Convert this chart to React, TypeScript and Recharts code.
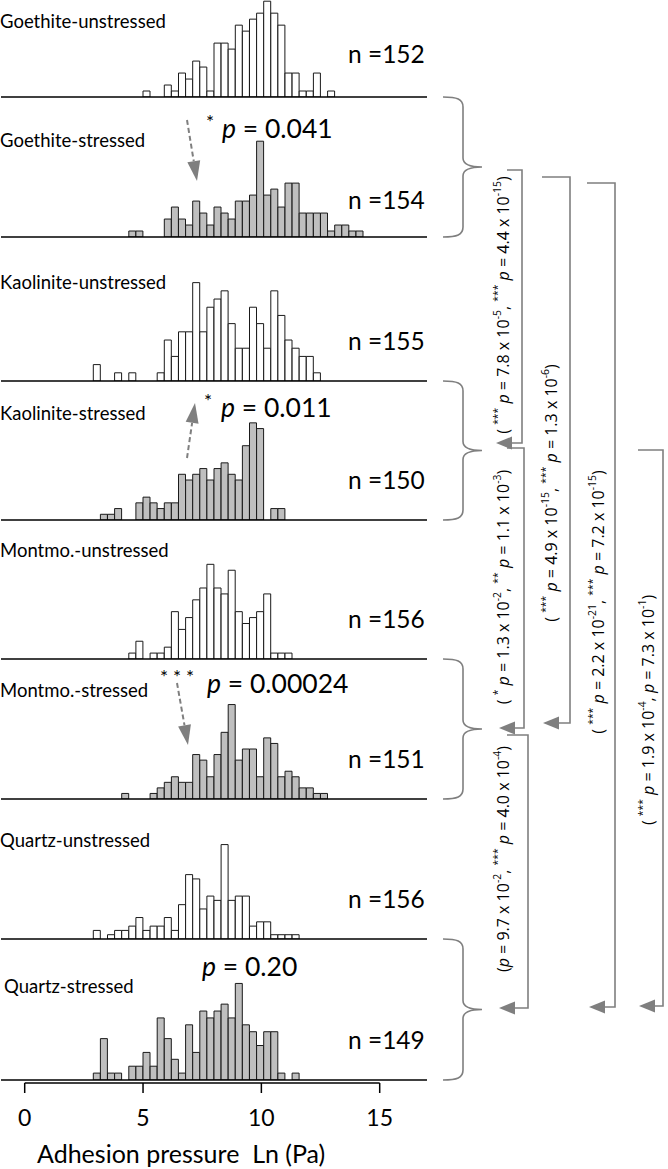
import React from "react";
import { BarChart, Bar, XAxis, YAxis, LineChart, Line } from "recharts";

// histogram grid: 0.3 Ln(Pa) wide bins, left edges from -1.0 up to 17.0
const BIN_W = 0.3;
const FIRST_EDGE = -1.0;
const N_BINS = 60;
const binLabels = Array.from({ length: N_BINS }, (_, i) =>
  (FIRST_EDGE + BIN_W * i + BIN_W / 2).toFixed(2)
);

// counts per bin, first value belongs to the bin starting at *Start
const goethiteUnstressedStart = 5.0;
const goethiteUnstressed = [1, 0, 0, 2, 1, 4, 3, 6, 5, 1, 9, 9, 8, 12, 11, 13, 14, 16, 14, 12, 4, 4, 1, 1, 4, 0, 1];
const goethiteStressedStart = 4.4;
const goethiteStressed = [1, 1, 0, 0, 0, 3, 5, 3, 2, 6, 4, 2, 5, 4, 3, 6, 6, 7, 16, 7, 8, 5, 9, 9, 4, 4, 4, 4, 1, 2, 2, 1, 1];
const kaoliniteUnstressedStart = 2.9;
const kaoliniteUnstressed = [2, 0, 0, 1, 0, 1, 0, 0, 0, 1, 5, 3, 6, 6, 12, 6, 9, 10, 11, 7, 4, 4, 9, 7, 4, 11, 8, 5, 4, 3, 3, 1];
const kaoliniteStressedStart = 3.2;
const kaoliniteStressed = [1, 1, 2, 0, 0, 3, 4, 3, 2, 3, 3, 8, 7, 8, 9, 7, 9, 10, 8, 7, 13, 17, 16, 0, 2, 2];
const montmoUnstressedStart = 4.4;
const montmoUnstressed = [1, 3, 0, 1, 1, 2, 8, 5, 7, 10, 12, 16, 12, 11, 15, 8, 6, 7, 8, 11, 1, 1, 1];
const montmoStressedStart = 4.1;
const montmoStressed = [1, 0, 0, 0, 1, 2, 3, 4, 3, 3, 8, 7, 4, 8, 12, 17, 7, 9, 9, 4, 11, 10, 4, 5, 4, 2, 2, 1, 1];
const quartzUnstressedStart = 2.9;
const quartzUnstressed = [2, 0, 1, 2, 2, 3, 5, 2, 3, 3, 5, 2, 8, 15, 14, 7, 10, 9, 22, 9, 10, 10, 3, 4, 4, 1, 1, 1, 1];
const quartzStressedStart = 2.9;
const quartzStressed = [1, 6, 1, 1, 0, 2, 2, 4, 2, 9, 6, 3, 1, 8, 4, 10, 9, 10, 11, 9, 14, 8, 7, 5, 7, 7, 1, 0, 1];

const panelNames = [
  "Goethite-unstressed",
  "Goethite-stressed",
  "Kaolinite-unstressed",
  "Kaolinite-stressed",
  "Montmo.-unstressed",
  "Montmo.-stressed",
  "Quartz-unstressed",
  "Quartz-stressed",
];
const panelN = [152, 154, 155, 150, 156, 151, 156, 149];
const axisTicks = [0, 5, 10, 15];

// p-value strings: ^{..} = superscript, _{..} = italic
const pairP = ["0.041", "0.011", "0.00024", "0.20"];
const pairStars = ["*", "*", "* * *", ""];
const bracketTexts = [
  "( ^{***} _{p} = 7.8 x 10^{-5}, ^{***} _{p} = 4.4 x 10^{-15})",
  "( ^{*} _{p} = 1.3 x 10^{-2}, ^{**} _{p} = 1.1 x 10^{-3})",
  "(_{p} = 9.7 x 10^{-2}, ^{***} _{p} = 4.0 x 10^{-4})",
  "( ^{***} _{p} = 4.9 x 10^{-15}, ^{***} _{p} = 1.3 x 10^{-6})",
  "( ^{***} _{p} = 2.2 x 10^{-21}, ^{***} _{p} = 7.2 x 10^{-15})",
  "( ^{***} _{p} = 1.9 x 10^{-4}, _{p} = 7.3 x 10^{-1})",
];

const panels = [
  { start: goethiteUnstressedStart, counts: goethiteUnstressed, yMax: 16.7 },
  { start: goethiteStressedStart, counts: goethiteStressed, yMax: 16.7 },
  { start: kaoliniteUnstressedStart, counts: kaoliniteUnstressed, yMax: 12.2 },
  { start: kaoliniteStressedStart, counts: kaoliniteStressed, yMax: 17.5 },
  { start: montmoUnstressedStart, counts: montmoUnstressed, yMax: 16.9 },
  { start: montmoStressedStart, counts: montmoStressed, yMax: 18 },
  { start: quartzUnstressedStart, counts: quartzUnstressed, yMax: 23.3 },
  { start: quartzStressedStart, counts: quartzStressed, yMax: 14.5 },
];

// layout
const BASELINES = [97, 237, 381, 520, 659, 799, 939, 1080];
const LABEL_Y = [28, 147, 289, 420, 557, 697, 847, 993];
const LABEL_X = [0, 0, 0, 0, 0, 0, 0, 4];
const N_Y = [63, 209, 350, 489, 628, 768, 908, 1049];
const P_Y = [138, 417, 693, 976];
const STAR_X = [206, 204, 160, 0];
const P_X = [222, 221, 207, 202];
const FONT = "Lato, 'Open Sans', sans-serif";
const GREY = "#7f7f7f";

function buildRows(start: number, counts: number[]) {
  const offset = Math.round((start - FIRST_EDGE) / BIN_W);
  return binLabels.map((b, i) => {
    const c = counts[i - offset];
    return { bin: b, count: c ? c : null };
  });
}

function Histogram({ idx }: { idx: number }) {
  const p = panels[idx];
  const data = buildRows(p.start, p.counts);
  const stressed = idx % 2 === 1;
  return (
    <div style={{ position: "absolute", left: 0, top: BASELINES[idx] - 102 }}>
      <BarChart
        width={428}
        height={104}
        data={data}
        margin={{ top: 2, right: 1, left: 1, bottom: 0 }}
        barCategoryGap={0}
        barGap={0}
      >
        <XAxis
          dataKey="bin"
          height={2}
          tick={false}
          tickLine={false}
          interval={0}
          axisLine={{ stroke: "#000", strokeWidth: 1.5 }}
        />
        <YAxis hide domain={[0, p.yMax]} allowDataOverflow />
        <Bar
          dataKey="count"
          fill={stressed ? "#bfbfbf" : "#ffffff"}
          stroke="#1a1a1a"
          strokeWidth={1}
          isAnimationActive={false}
        />
      </BarChart>
    </div>
  );
}

function Rich({ text, size }: { text: string; size: number }) {
  const tokens = text.split(/(\^\{[^}]*\}|_\{[^}]*\})/).filter((t) => t.length);
  let raised = false;
  const shift = size * 0.38;
  return (
    <>
      {tokens.map((t, i) => {
        const sup = t.startsWith("^{");
        const it = t.startsWith("_{");
        const body = sup || it ? t.slice(2, -1) : t;
        let dy: number | undefined;
        if (sup && !raised) {
          dy = -shift;
          raised = true;
        } else if (!sup && raised) {
          dy = shift;
          raised = false;
        }
        return (
          <tspan
            key={i}
            dy={dy}
            fontSize={sup ? size * 0.65 : size}
            fontStyle={it ? "italic" : undefined}
          >
            {body}
          </tspan>
        );
      })}
    </>
  );
}

function DashArrow({ x1, y1, x2, y2 }: { x1: number; y1: number; x2: number; y2: number }) {
  const dx = x2 - x1;
  const dy = y2 - y1;
  const L = Math.hypot(dx, dy);
  const ux = dx / L;
  const uy = dy / L;
  const bx = x2 - ux * 20;
  const by = y2 - uy * 20;
  const hw = 6.5;
  return (
    <g>
      <line x1={x1} y1={y1} x2={bx} y2={by} stroke={GREY} strokeWidth={2} strokeDasharray="5 3" />
      <polygon
        points={`${x2},${y2} ${bx - uy * hw},${by + ux * hw} ${bx + uy * hw},${by - ux * hw}`}
        fill={GREY}
      />
    </g>
  );
}

function Brace({ y0, y1 }: { y0: number; y1: number }) {
  const m = (y0 + y1) / 2;
  const d = `M443 ${y0} C457 ${y0} 463 ${y0 + 2} 463 ${y0 + 10} L463 ${m - 9} C463 ${m - 3} 469 ${m} 482 ${m} C469 ${m} 463 ${m + 3} 463 ${m + 9} L463 ${y1 - 10} C463 ${y1 - 2} 457 ${y1} 443 ${y1}`;
  return <path d={d} fill="none" stroke={GREY} strokeWidth={1.6} />;
}

function Bracket({ x0, xv, y0, y1, tip }: { x0: number; xv: number; y0: number; y1: number; tip: number }) {
  const base = tip + 16;
  return (
    <g>
      <polyline
        points={`${x0},${y0} ${xv},${y0} ${xv},${y1} ${base},${y1}`}
        fill="none"
        stroke={GREY}
        strokeWidth={1.6}
      />
      <polygon points={`${tip},${y1} ${base},${y1 - 6.5} ${base},${y1 + 6.5}`} fill={GREY} />
    </g>
  );
}

const brackets = [
  { x0: 507, xv: 522, y0: 170, y1: 443, tip: 496, tx: 503, ty: 305 },
  { x0: 507, xv: 524, y0: 448, y1: 728, tip: 499, tx: 503, ty: 587 },
  { x0: 507, xv: 528, y0: 735, y1: 1008, tip: 499, tx: 503, ty: 859 },
  { x0: 542, xv: 570, y0: 177, y1: 723, tip: 543, tx: 551, ty: 493 },
  { x0: 587, xv: 615, y0: 183, y1: 1007, tip: 589, tx: 598, ty: 602 },
  { x0: 638, xv: 663, y0: 450, y1: 1006, tip: 639, tx: 648, ty: 710 },
];

export default function App() {
  return (
    <div
      style={{
        position: "absolute",
        left: 0,
        top: 0,
        width: 668,
        height: 1169,
        background: "#fff",
        overflow: "hidden",
        fontFamily: FONT,
      }}
    >
      {panels.map((_, i) => (
        <Histogram key={i} idx={i} />
      ))}

      <div style={{ position: "absolute", left: 0, top: 1079 }}>
        <LineChart
          width={428}
          height={62}
          data={axisTicks.map((v) => ({ x: v, y: 0 }))}
          margin={{ top: 2, right: 48.3, left: 24.7, bottom: 0 }}
        >
          <XAxis
            dataKey="x"
            type="number"
            domain={[0, 15]}
            ticks={axisTicks}
            interval={0}
            height={58}
            tickSize={10}
            tickMargin={17}
            axisLine={{ stroke: "#000", strokeWidth: 1.5 }}
            tickLine={{ stroke: "#000", strokeWidth: 1.5 }}
            tick={{ fill: "#000", fontSize: 23, fontFamily: FONT }}
          />
          <YAxis hide domain={[0, 1]} />
          <Line dataKey="y" stroke="none" dot={false} isAnimationActive={false} />
        </LineChart>
      </div>

      <svg
        width={668}
        height={1169}
        style={{ position: "absolute", left: 0, top: 0, pointerEvents: "none" }}
        fontFamily={FONT}
      >
        {panelNames.map((name, i) => (
          <text key={name} x={LABEL_X[i]} y={LABEL_Y[i]} fontSize={18.5} fill="#000">
            {name}
          </text>
        ))}
        {panelN.map((n, i) => (
          <text key={i} x={348} y={N_Y[i]} fontSize={24.5} fill="#000">
            {`n =${n}`}
          </text>
        ))}

        {pairP.map((p, i) => (
          <g key={p}>
            {pairStars[i] && (
              <text x={STAR_X[i]} y={P_Y[i] - 9} fontSize={19} fill="#000">
                {pairStars[i]}
              </text>
            )}
            <text x={P_X[i]} y={P_Y[i]} fontSize={26.5} fill="#000">
              <tspan fontStyle="italic">p</tspan>
              {` = ${p}`}
            </text>
          </g>
        ))}

        <DashArrow x1={187} y1={120} x2={197} y2={181} />
        <DashArrow x1={187} y1={458} x2={195} y2={403} />
        <DashArrow x1={177} y1={683} x2={188} y2={745} />

        {[0, 1, 2, 3].map((k) => (
          <Brace key={k} y0={BASELINES[2 * k]} y1={BASELINES[2 * k + 1]} />
        ))}

        {brackets.map((b, i) => (
          <g key={i}>
            <Bracket x0={b.x0} xv={b.xv} y0={b.y0} y1={b.y1} tip={b.tip} />
            <text
              transform={`translate(${b.tx}, ${b.ty}) rotate(-90)`}
              textAnchor="middle"
              dominantBaseline="central"
              fill="#000"
              fontFamily="'Open Sans', sans-serif"
            >
              <Rich text={bracketTexts[i]} size={16} />
            </text>
          </g>
        ))}

        <text x={37} y={1163} fontSize={25} fill="#000">
          {"Adhesion pressure\u00a0\u00a0Ln (Pa)"}
        </text>
      </svg>
    </div>
  );
}
